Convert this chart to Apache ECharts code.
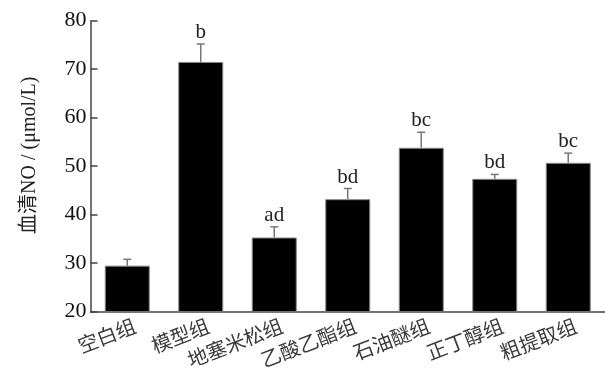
<!DOCTYPE html>
<html><head><meta charset="utf-8">
<script src="https://cdn.jsdelivr.net/npm/echarts@6/dist/echarts.min.js"></script>
<style>html,body{margin:0;padding:0;background:#fff}#c{width:605px;height:374px}</style>
</head><body><div id="c"></div>
<script>
var categories = ['空白组','模型组','地塞米松组','乙酸乙酯组','石油醚组','正丁醇组','粗提取组'];
var values = [29.5, 71.5, 35.3, 43.2, 53.8, 47.4, 50.7];
var errors = [1.3, 3.7, 2.2, 2.2, 3.2, 0.9, 2.0];
var sigLabels = ['', 'b', 'ad', 'bd', 'bc', 'bd', 'bc'];
var yTicks = [20, 30, 40, 50, 60, 70, 80];

var serif = '"Liberation Serif","Noto Sans CJK SC",serif';
var chart = echarts.init(document.getElementById('c'));
chart.setOption({
  animation: false,
  backgroundColor: '#fff',
  grid: {left: 90.5, right: -7.5, top: 20.7, bottom: 62.3, containLabel: false},
  xAxis: {
    type: 'category', data: categories,
    axisLine: {lineStyle: {color: '#444', width: 1.5}},
    axisTick: {show: false},
    axisLabel: {rotate: 21, margin: 16, color: '#3a3a3a', fontSize: 20, padding: [0, -8, 0, 0], fontFamily: '"Noto Sans CJK SC",sans-serif'}
  },
  yAxis: {
    type: 'value', min: yTicks[0], max: yTicks[yTicks.length-1], interval: 10,
    name: '血清NO / (μmol/L)', nameLocation: 'middle', nameGap: 51,
    nameTextStyle: {fontSize: 20, color: '#222', fontFamily: serif, padding: [0, 0, 0, 22]},
    axisLine: {show: true, lineStyle: {color: '#444', width: 1.5}},
    axisTick: {show: true, inside: true, length: 7, lineStyle: {color: '#444', width: 1.5}},
    axisLabel: {fontSize: 22, color: '#111', fontFamily: serif, margin: 4},
    splitLine: {show: false}
  },
  series: [
    {
      type: 'bar', data: values, barWidth: 45,
      itemStyle: {color: '#000', borderColor: '#888', borderWidth: 1}
    },
    {
      type: 'custom', z: 5,
      data: values.map(function(v, i){ return [i, v, v + errors[i], sigLabels[i]]; }),
      renderItem: function(params, api){
        var i = api.value(0);
        var p0 = api.coord([i, api.value(1)]);
        var p1 = api.coord([i, api.value(2)]);
        var half = 4;
        var children = [
          {type: 'line', shape: {x1: p0[0], y1: p0[1], x2: p1[0], y2: p1[1]}, style: {stroke: '#777', lineWidth: 1.5}},
          {type: 'line', shape: {x1: p1[0]-half, y1: p1[1], x2: p1[0]+half, y2: p1[1]}, style: {stroke: '#777', lineWidth: 1.5}}
        ];
        var lab = sigLabels[params.dataIndex];
        if (lab) {
          children.push({type: 'text', style: {text: lab, x: p1[0], y: p1[1] - 1, textAlign: 'center', textVerticalAlign: 'bottom', font: '21px ' + serif, fill: '#222'}});
        }
        return {type: 'group', children: children};
      }
    }
  ]
});
</script></body></html>
